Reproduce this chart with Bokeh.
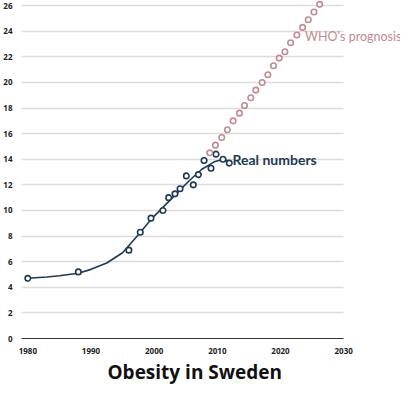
from bokeh.plotting import figure
from bokeh.models import Range1d, FixedTicker, Label
from bokeh.embed import file_html
from bokeh.resources import INLINE

# Real numbers (measured points)
real_years = [1980, 1988, 1996, 1997.8, 1999.5, 2001.4, 2002.3, 2003.3, 2004.1,
              2005.1, 2006.2, 2007.0, 2007.9, 2009.0, 2009.8, 2010.9, 2011.9]
real_values = [4.7, 5.2, 6.9, 8.3, 9.4, 10.0, 11.0, 11.3, 11.7,
               12.7, 12.0, 12.8, 13.9, 13.3, 14.4, 14.0, 13.7]

# Fitted curve through the real numbers
fit_years = [1980, 1983, 1985, 1988, 1990, 1992.5, 1995, 1997.5, 1999.5,
             2001.5, 2003.5, 2005.5, 2007.5, 2009.5, 2011, 2012]
fit_values = [4.7, 4.8, 4.9, 5.1, 5.4, 5.9, 6.7, 8.1, 9.3,
              10.3, 11.3, 12.3, 13.2, 13.8, 14.0, 13.8]

# WHO's prognosis
who_years = [2008.8, 2009.7, 2010.7, 2011.6, 2012.5, 2013.5, 2014.3, 2015.3, 2016.1,
             2017.1, 2018.0, 2018.9, 2019.8, 2020.7, 2021.6, 2022.6, 2023.5, 2024.4,
             2025.3, 2026.2]
who_values = [14.5, 15.1, 15.7, 16.3, 17.0, 17.6, 18.2, 18.8, 19.4,
              20.0, 20.6, 21.3, 21.9, 22.4, 23.1, 23.7, 24.3, 24.9,
              25.5, 26.1]

x_ticks = [1980, 1990, 2000, 2010, 2020, 2030]
y_ticks = [0, 2, 4, 6, 8, 10, 12, 14, 16, 18, 20, 22, 24, 26]

BLUE = "#1d3a55"
PINK = "#c48a91"
FONT = "Open Sans"
LABEL_FONT = "Lato"

p = figure(width=400, height=384, output_backend="svg", toolbar_location=None,
           x_range=Range1d(1979, 2039), y_range=Range1d(0, 26.4),
           title="Obesity in Sweden", title_location="below",
           min_border_left=0, min_border_top=0, min_border_right=0,
           min_border_bottom=0)

p.title.align = "left"
p.title.offset = 86
p.title.text_font = FONT
p.title.text_font_size = "19px"
p.title.text_font_style = "bold"
p.title.text_color = "#111111"
p.title.standoff = 0
p.title.text_line_height = 0.9

p.outline_line_color = None
p.background_fill_color = "white"
p.border_fill_color = "white"

p.xgrid.grid_line_color = None
p.ygrid.grid_line_color = "#dcdcdc"
p.ygrid.grid_line_width = 1.3
p.ygrid.cross_bounds = (1979, 2030)

p.xaxis.ticker = FixedTicker(ticks=x_ticks)
p.yaxis.ticker = FixedTicker(ticks=y_ticks)
for ax in (p.xaxis, p.yaxis):
    ax.major_tick_line_color = None
    ax.minor_tick_line_color = None
    ax.major_label_text_font = FONT
    ax.major_label_text_font_style = "bold"
    ax.major_label_text_font_size = "8px"
    ax.major_label_text_color = "#222222"
    ax.major_label_standoff = 3
p.xaxis.axis_line_color = "#333333"
p.xaxis.axis_line_width = 1
p.xaxis.bounds = (1979, 2030)
p.yaxis.axis_line_color = None

p.line(fit_years, fit_values, line_color=BLUE, line_width=1.6)
p.scatter(real_years, real_values, size=5.5, fill_color="white", line_color=BLUE,
          line_width=1.6)
p.scatter(who_years, who_values, size=5.5, fill_color="white", line_color=PINK,
          line_width=1.6)

p.add_layout(Label(x=2012.4, y=14.0, text="Real numbers", text_color=BLUE,
                   text_font=LABEL_FONT, text_font_size="14px",
                   text_font_style="bold", text_baseline="middle"))
p.add_layout(Label(x=2023.9, y=23.6, text="WHO's prognosis", text_color=PINK,
                   text_font=LABEL_FONT, text_font_size="12.5px",
                   text_baseline="middle"))

open("out.html", "w").write(file_html(p, INLINE))
